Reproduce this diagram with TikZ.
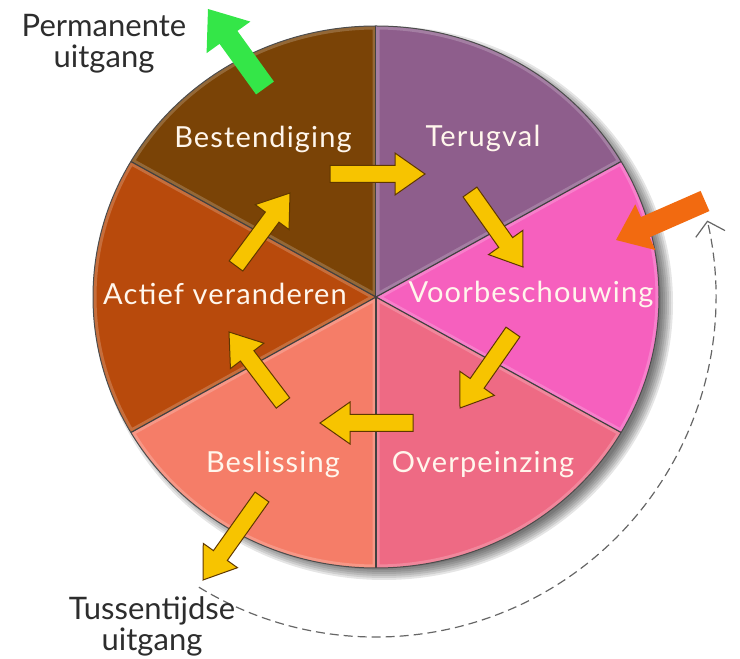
\documentclass[tikz,border=0pt]{standalone}
\usepackage{fontspec}
\setmainfont{Lato}
\newfontfamily\stagefont[LetterSpace=4]{Lato}
\usetikzlibrary{calc,arrows.meta}

\definecolor{bestcol}{RGB}{122,67,6}
\definecolor{actcol}{RGB}{184,74,12}
\definecolor{beslcol}{RGB}{245,125,104}
\definecolor{overcol}{RGB}{238,106,132}
\definecolor{voorcol}{RGB}{246,96,190}
\definecolor{terugcol}{RGB}{142,94,140}
\definecolor{yelcol}{RGB}{247,196,0}
\definecolor{yeledge}{RGB}{95,55,0}
\definecolor{greencol}{RGB}{52,230,72}
\definecolor{orcol}{RGB}{242,106,16}
\definecolor{txtcol}{RGB}{45,45,45}
\definecolor{labelcol}{RGB}{255,246,236}

% block arrow: style, from, to, half shaft, half head, head length
\newcommand\blockarrow[6]{%
  \coordinate (hb) at ($(#3)!#6!(#2)$);
  \filldraw[#1] ($(#2)!#4!90:(#3)$) -- ($(hb)!#4!90:(#3)$) -- ($(hb)!#5!90:(#3)$) -- (#3)
    -- ($(hb)!#5!-90:(#3)$) -- ($(hb)!#4!-90:(#3)$) -- ($(#2)!#4!-90:(#3)$) -- cycle;}

\begin{document}
\begin{tikzpicture}[x=1pt,y=1pt,
  stage/.style={font=\stagefont\fontsize{29}{32}\selectfont,text=labelcol,anchor=base,inner sep=0pt},
  exitlabel/.style={font=\fontsize{31}{31}\selectfont,text=txtcol,align=center,inner sep=0pt,anchor=north},
  yelarrow/.style={fill=yelcol,draw=yeledge,line width=1pt},
  greenarrow/.style={fill=greencol,draw=none},
  orarrow/.style={fill=orcol,draw=none},
  dashpath/.style={black!60,line width=1.2pt,dash pattern=on 9pt off 5pt,-{Straight Barb[length=13pt,width=30pt]}}]
	\useasboundingbox (0,0) rectangle (740,659);
	\coordinate (C) at (376,362);

	% shadow
	\foreach \s in {-6,-4,...,6}
		\fill[black,opacity=0.1] ($(C)+(8,-6)$) ellipse [x radius=283+\s, y radius=271+\s];

	% slices
	\foreach \a/\col in {90/bestcol,150/actcol,210/beslcol,270/overcol,330/voorcol,30/terugcol}{
		\fill[\col] (C) -- ($(C)+(\a:283 and 271)$) arc[start angle=\a, end angle=\a+60, x radius=283, y radius=271] -- cycle;
		\begin{scope}
			\clip (C) -- ($(C)+(\a:283 and 271)$) arc[start angle=\a, end angle=\a+60, x radius=283, y radius=271] -- cycle;
			\draw[white,opacity=0.2,line width=7pt] (C) -- ($(C)+(\a:283 and 271)$) arc[start angle=\a, end angle=\a+60, x radius=283, y radius=271] -- cycle;
		\end{scope}
		\draw[black!75,line width=1.2pt] (C) -- ($(C)+(\a:283 and 271)$);
	}
	\draw[black!70,line width=1pt] (C) ellipse [x radius=283, y radius=271];

	% stage names
	\node[stage] (best) at (263,511) {Bestendiging};
	\node[stage] (terug) at (483,512) {Terugval};
	\node[stage] (voor) at (531,356) {Voorbeschouwing};
	\node[stage] (over) at (483,186) {Overpeinzing};
	\node[stage] (besl) at (273,186) {Beslissing};
	\node[stage] (actief) at (225,354) {Actief veranderen};

	% arrows in the cycle
	\coordinate (a1) at (330,485); \coordinate (b1) at (425,485);
	\coordinate (a2) at (470,467); \coordinate (b2) at (523,392);
	\coordinate (a3) at (513,327); \coordinate (b3) at (460,251);
	\coordinate (a4) at (413,236); \coordinate (b4) at (320,236);
	\coordinate (a5) at (283,256); \coordinate (b5) at (229,327);
	\coordinate (a6) at (236,393); \coordinate (b6) at (290,466);
	\coordinate (a7) at (262,162); \coordinate (b7) at (203,79);
	\blockarrow{yelarrow}{a1}{b1}{8.5pt}{21pt}{30pt}
	\blockarrow{yelarrow}{a2}{b2}{8.5pt}{21pt}{30pt}
	\blockarrow{yelarrow}{a3}{b3}{8.5pt}{21pt}{30pt}
	\blockarrow{yelarrow}{a4}{b4}{8.5pt}{21pt}{30pt}
	\blockarrow{yelarrow}{a5}{b5}{8.5pt}{21pt}{30pt}
	\blockarrow{yelarrow}{a6}{b6}{8.5pt}{21pt}{30pt}
	\blockarrow{yelarrow}{a7}{b7}{8.5pt}{21pt}{30pt}

	% entry and exits
	\coordinate (a8) at (265,571); \coordinate (b8) at (208,650);
	\coordinate (a9) at (705,458); \coordinate (b9) at (616,419);
	\blockarrow{greenarrow}{a8}{b8}{11pt}{27pt}{35pt}
	\blockarrow{orarrow}{a9}{b9}{11pt}{25pt}{32pt}

	\coordinate (dstart) at ($(C)+(238.6:340)$);
	\draw[dashpath] (dstart) arc[start angle=238.6, end angle=373, radius=340];

	\node[exitlabel] (perm) at (104,645) {Permanente\\uitgang};
	\node[exitlabel] (tuss) at (152,63) {Tussentijdse\\uitgang};

\end{tikzpicture}
\end{document}
